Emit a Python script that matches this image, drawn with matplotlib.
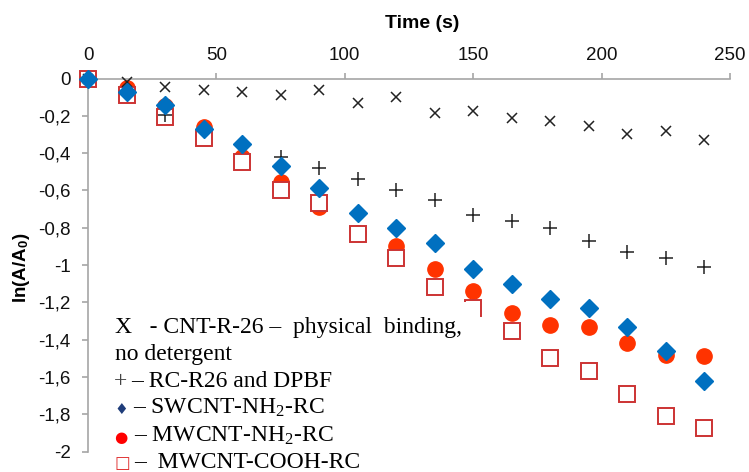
import numpy as np
import matplotlib
matplotlib.use("Agg")
import matplotlib.pyplot as plt
from matplotlib.ticker import FuncFormatter, MultipleLocator
from matplotlib.patches import Rectangle

plt.rcParams['mathtext.fontset'] = 'custom'
plt.rcParams['mathtext.rm'] = 'Liberation Serif'
plt.rcParams['mathtext.it'] = 'Liberation Serif:italic'
plt.rcParams['mathtext.bf'] = 'Liberation Sans:bold'

# tijdstippen (s)
time = [0, 15, 30, 45, 60, 75, 90, 105, 120, 135, 150, 165, 180, 195, 210, 225, 240]

cnt_r26 = [0, -0.02, -0.045, -0.06, -0.07, -0.09, -0.06, -0.13, -0.10, -0.185,
           -0.175, -0.21, -0.23, -0.255, -0.30, -0.28, -0.33]
rc_dpbf = [0, -0.07, -0.195, -0.27, -0.35, -0.42, -0.48, -0.54, -0.60, -0.65,
           -0.73, -0.765, -0.80, -0.87, -0.93, -0.96, -1.01]
swcnt_nh2 = [0, -0.075, -0.14, -0.27, -0.35, -0.47, -0.585, -0.72, -0.80, -0.88,
             -1.02, -1.10, -1.18, -1.23, -1.33, -1.46, -1.62]
mwcnt_nh2 = [0, -0.05, -0.15, -0.26, -0.42, -0.555, -0.69, -0.83, -0.90, -1.02,
             -1.14, -1.26, -1.32, -1.33, -1.42, -1.48, -1.49]
mwcnt_cooh = [0, -0.09, -0.205, -0.32, -0.45, -0.60, -0.67, -0.835, -0.965, -1.12,
              -1.23, -1.355, -1.50, -1.57, -1.69, -1.81, -1.875]

W, H = 749, 472
fig = plt.figure(figsize=(W / 100, H / 100), dpi=100)
ax = fig.add_axes([88 / W, 1 - 451.5 / H, 642 / W, 373 / H])

ax.plot(time, mwcnt_nh2, 'o', ms=11, color='#ff3300', mec='#ff3300', zorder=3, clip_on=False)
ax.plot(time, mwcnt_cooh, 's', ms=11, mfc='white', mec='#cc3333', mew=1.4, zorder=4, clip_on=False)
ax.plot(time, rc_dpbf, '+', ms=10, color='#222222', mew=1.1, zorder=5, clip_on=False)
ax.plot(time, cnt_r26, 'x', ms=7, color='#222222', mew=1.1, zorder=5, clip_on=False)
ax.plot(time, swcnt_nh2, 'D', ms=9, color='#0070c0', mec='#0070c0', zorder=6, clip_on=False)

ax.set_xlim(0, 250)
ax.set_ylim(-2, 0)
ax.xaxis.set_major_locator(MultipleLocator(50))
ax.yaxis.set_major_locator(MultipleLocator(0.2))
ax.xaxis.tick_top()
ax.yaxis.set_major_formatter(FuncFormatter(lambda v, p: f"{round(v, 1):g}".replace('.', ',')))

for s in ['bottom', 'right']:
    ax.spines[s].set_visible(False)
for s in ['top', 'left']:
    ax.spines[s].set_color('#a6a6a6')
    ax.spines[s].set_linewidth(1.2)
ax.tick_params(axis='both', direction='out', length=4.5, width=1.2, color='#a6a6a6',
               labelsize=13.5, labelcolor='#111111')
ax.tick_params(axis='y', pad=8)
ax.tick_params(axis='x', pad=6)
for lab in ax.get_xticklabels() + ax.get_yticklabels():
    lab.set_family('Liberation Sans')

fig.text(422 / W, 1 - 24 / H, 'Time (s)', ha='center', va='center', fontsize=14,
         fontweight='bold', family='Liberation Sans')
fig.text(21 / W, 1 - 268 / H, r'ln(A/A$_\mathbf{0}$)', ha='center', va='center', rotation=90,
         fontsize=13.5, fontweight='bold', family='Liberation Sans')

# witte tekstvak met legenda
fig.patches.append(Rectangle((100 / W, 0), 380 / W, 1 - 302 / H, transform=fig.transFigure,
                             facecolor='white', edgecolor='none', zorder=10))

fs = 17
serif = 'Liberation Serif'
def line(x, ypix, s, color='black', family=serif, size=fs):
    fig.text(x / W, 1 - ypix / H, s, ha='left', va='baseline', fontsize=size,
             color=color, family=family, zorder=11)

line(115, 333, 'X   - CNT-R-26 \u2013  physical  binding,')
line(115, 360, 'no detergent')
line(114, 387, '+', color='#444444')
line(131, 387, '\u2013 RC-R26 and DPBF')
line(114, 414, '\u2666', color='#1f3d7a', family='DejaVu Sans', size=11)
line(133, 414, '\u2013 SWCNT-NH$_2$-RC')
line(114, 442, '\u25cf', color='#ff0000', family='DejaVu Sans', size=11)
line(134, 442, '\u2013 MWCNT-NH$_2$-RC')
line(114, 468, '\u25a1', color='#e03030', family='DejaVu Sans', size=12)
line(134, 468, '\u2013  MWCNT-COOH-RC')

fig.savefig('out.png', dpi=100)
